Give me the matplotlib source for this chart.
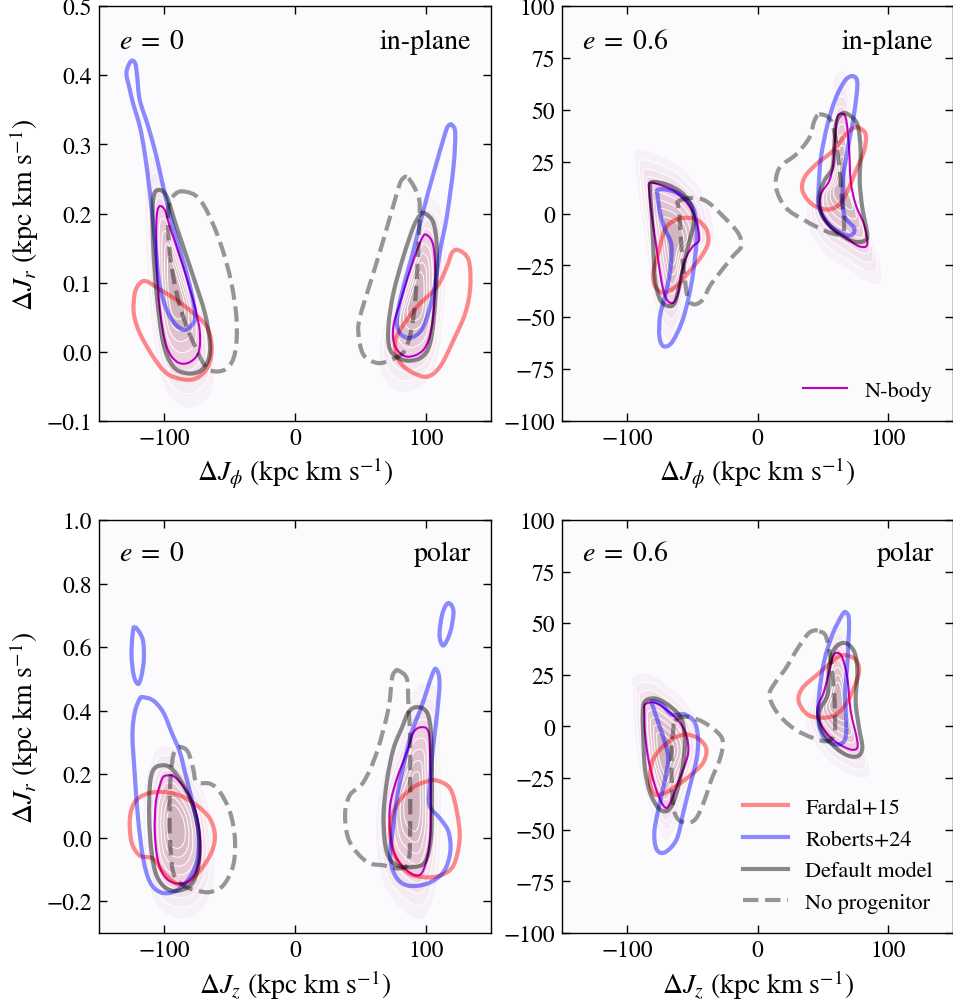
import numpy as np
import matplotlib
matplotlib.use("Agg")
import matplotlib.pyplot as plt
from matplotlib.path import Path
from matplotlib.patches import PathPatch
from matplotlib.lines import Line2D

plt.rcParams['font.family'] = ['STIXGeneral', 'Liberation Serif', 'DejaVu Serif']
plt.rcParams['mathtext.fontset'] = 'stix'
plt.rcParams['axes.linewidth'] = 1.0

# contour outlines, (x, y) in data units; two streams per panel
ip0_nbody = [
    [(-104, 0.210), (-106, 0.191), (-106, 0.133), (-103.4, 0.061), (-98.3, 0.008), (-90.7, -0.014), (-81.8, -0.016),
     (-74.1, -0.002), (-72.8, 0.027), (-76.6, 0.065), (-85.6, 0.123), (-95.8, 0.181), (-99.6, 0.205)],
    [(100.9, 0.169), (106, 0.152), (107.3, 0.099), (104.7, 0.037), (98.3, 0.003), (85.6, -0.007), (76.6, 0.008),
     (75.3, 0.037), (81.8, 0.080), (90.7, 0.133), (97.1, 0.164)],
]
ip0_fardal = [
    [(-118.8, 0.099), (-113.6, 0.102), (-103.4, 0.090), (-90.7, 0.075), (-77.9, 0.056), (-67.7, 0.037), (-63.8, 0.008),
     (-66.4, -0.021), (-75.3, -0.038), (-85.6, -0.040), (-98.3, -0.031), (-108.6, -0.007), (-118.8, 0.027),
     (-123.4, 0.056), (-122.6, 0.085)],
    [(125.1, 0.147), (132.8, 0.133), (134.1, 0.094), (130.3, 0.056), (121.3, 0.017), (111.1, -0.021), (100.9, -0.036),
     (88.1, -0.028), (79.2, -0.012), (76.6, 0.013), (80.5, 0.032), (93.3, 0.065), (108.6, 0.094), (116.2, 0.123),
     (120.1, 0.143)],
]
ip0_roberts = [
    [(-125.7, 0.420), (-129, 0.403), (-126.4, 0.379), (-123.9, 0.359), (-118.8, 0.326), (-115, 0.287), (-111, 0.229),
     (-107, 0.157), (-103.4, 0.094), (-95.8, 0.051), (-85.6, 0.032), (-77.9, 0.041), (-76.6, 0.056), (-79.2, 0.085),
     (-84.3, 0.123), (-93.3, 0.181), (-100.9, 0.239), (-106, 0.282), (-112.4, 0.326), (-118.8, 0.364),
     (-120.8, 0.398), (-122.3, 0.417)],
    [(120.1, 0.328), (122.6, 0.316), (121.3, 0.268), (116.2, 0.196), (111.1, 0.147), (107.3, 0.099), (103.4, 0.065),
     (97.1, 0.032), (88.1, 0.020), (80.5, 0.027), (77.9, 0.046), (81.8, 0.085), (90.7, 0.147), (98.3, 0.205),
     (106, 0.258), (114.9, 0.316), (117.5, 0.327)],
]
ip0_default = [
    [(-104.7, 0.234), (-108.6, 0.220), (-108.6, 0.157), (-106, 0.085), (-100.9, 0.013), (-93.3, -0.021), (-83, -0.031),
     (-72.8, -0.028), (-66.4, -0.012), (-65.1, 0.013), (-69, 0.056), (-77.9, 0.109), (-90.7, 0.181), (-98.3, 0.225)],
    [(99.6, 0.200), (106, 0.186), (108.6, 0.147), (107.3, 0.075), (103.4, 0.013), (95.8, -0.009), (83, -0.012),
     (72.8, 0.003), (71.5, 0.037), (75.3, 0.085), (83, 0.138), (90.7, 0.181), (95.8, 0.198)],
]
ip0_noprog = [
    [(-85.6, 0.232), (-72.8, 0.220), (-60, 0.172), (-49.8, 0.109), (-44.7, 0.046), (-46, -0.002), (-52.3, -0.024),
     (-62.6, -0.028), (-70.3, -0.016), (-83, 0.037), (-90.7, 0.085), (-95.8, 0.143), (-97.1, 0.205), (-93.3, 0.225)],
    [(86.8, 0.251), (94.5, 0.224), (95.3, 0.196), (93.7, 0.123), (90.7, 0.051), (84.3, 0.003), (72.8, -0.012),
     (62.6, -0.016), (52.3, -0.004), (48.5, 0.027), (49.8, 0.051), (57.5, 0.099), (67.7, 0.162), (77.9, 0.229),
     (81.8, 0.249)],
]

ip6_nbody = [
    [(-82.4, 14.8), (-72.3, 13.2), (-62.1, 10.0), (-53.2, 4.3), (-47.3, -2.9), (-44.8, -12.5), (-49.4, -15.7),
     (-54.4, -20.6), (-58.2, -28.6), (-60.8, -38.2), (-64.7, -43.0), (-69.7, -41.4), (-73.5, -33.4), (-77.3, -17.3),
     (-81.1, -1.3), (-83.0, 10.0)],
    [(63.1, 48.0), (67.7, 46.1), (70.2, 31.6), (71.5, 15.6), (75.3, 4.3), (81.7, -5.3), (84.2, -14.9), (77.9, -15.8),
     (67.7, -11.7), (56.3, -6.9), (48.6, 1.1), (48.6, 9.2), (54.9, 15.6), (58.0, 23.6), (59.5, 36.5), (60.8, 45.3)],
]
ip6_fardal = [
    [(-57.0, -2.1), (-46.8, -2.9), (-39.2, -7.7), (-37.9, -14.1), (-43.0, -20.6), (-53.2, -28.6), (-62.1, -35.0),
     (-72.3, -38.2), (-78.6, -35.0), (-79.9, -28.6), (-76.1, -18.9), (-71.0, -7.7), (-64.7, -3.7)],
    [(77.9, 41.3), (83.0, 38.1), (81.7, 30.0), (75.3, 20.4), (68.9, 10.7), (62.6, 4.3), (53.7, 1.9), (42.2, 4.3),
     (34.6, 10.7), (35.9, 17.2), (44.8, 23.6), (57.5, 30.0), (67.7, 38.1), (74.0, 41.3)],
]
ip6_roberts = [
    [(-76.1, 11.6), (-64.7, 10.7), (-54.4, 6.7), (-48.1, 0.3), (-46.8, -12.5), (-49.4, -28.6), (-53.2, -41.4),
     (-58.2, -52.7), (-65.9, -62.3), (-72.3, -63.9), (-75.3, -59.1), (-74.8, -49.5), (-71.0, -39.8), (-67.2, -28.6),
     (-65.9, -17.3), (-67.2, -12.5), (-71.0, -7.7), (-74.8, 0.3), (-76.6, 8.3)],
    [(74.0, 66.1), (76.6, 62.1), (74.0, 47.7), (68.9, 30.0), (65.6, 15.6), (66.4, -0.5), (74.0, -6.9), (72.7, -10.1),
     (66.4, -10.1), (54.9, -5.3), (47.3, 2.7), (46.8, 10.7), (48.6, 26.8), (53.7, 42.9), (60.1, 55.7), (67.7, 64.5)],
]
ip6_default = [
    [(-81.1, 15.1), (-69.7, 14.0), (-58.2, 10.0), (-50.6, 3.5), (-48.9, -4.5), (-51.9, -12.5), (-55.7, -22.2),
     (-59.5, -33.4), (-63.4, -43.0), (-68.5, -44.6), (-74.8, -41.4), (-78.6, -31.8), (-79.9, -17.3), (-81.1, -1.3),
     (-82.4, 11.6)],
    [(68.9, 48.0), (76.6, 42.9), (79.1, 30.0), (78.4, 15.6), (80.4, 2.7), (84.2, -10.1), (81.7, -13.3), (72.7, -13.3),
     (60.1, -8.5), (49.9, -1.3), (47.3, 7.6), (51.1, 15.6), (57.5, 22.0), (58.8, 31.6), (60.1, 42.9), (63.9, 47.7)],
]
ip6_noprog = [
    [(-60.8, 5.9), (-50.6, 7.5), (-39.2, 5.9), (-26.5, -1.3), (-15.0, -9.3), (-12.4, -15.7), (-18.9, -20.6),
     (-29.0, -28.6), (-36.6, -35.0), (-41.8, -41.4), (-48.1, -43.8), (-53.2, -41.4), (-55.7, -31.8), (-58.2, -17.3),
     (-59.5, -4.5), (-60.8, 3.5)],
    [(47.3, 47.7), (54.9, 46.1), (58.8, 39.6), (62.6, 23.6), (64.6, 7.6), (66.4, -6.9), (62.6, -10.1), (52.4, -8.5),
     (37.2, -3.7), (21.9, 2.7), (14.3, 12.4), (16.8, 22.0), (29.5, 28.4), (39.7, 36.5), (43.5, 44.5)],
]

po0_nbody = [
    [(-97.1, 0.196), (-92, 0.191), (-84.3, 0.154), (-76.6, 0.091), (-72.8, 0.007), (-73.3, -0.076), (-79.2, -0.129),
     (-88.1, -0.145), (-98.3, -0.129), (-104.7, -0.076), (-107.3, 0.018), (-106.5, 0.112), (-103.4, 0.165),
     (-100.9, 0.191)],
    [(97.1, 0.348), (102.2, 0.332), (103.4, 0.248), (104.0, 0.123), (103.4, -0.003), (99.6, -0.087), (94.5, -0.119),
     (85.6, -0.103), (76.6, -0.056), (72.8, 0.018), (72.8, 0.102), (77.9, 0.185), (85.6, 0.269), (90.7, 0.332)],
]
po0_fardal = [
    [(-113.6, 0.138), (-100.9, 0.144), (-88.1, 0.133), (-75.3, 0.102), (-65.1, 0.060), (-61.3, 0.007), (-63.8, -0.045),
     (-71.5, -0.097), (-81.8, -0.139), (-90.7, -0.145), (-100.9, -0.108), (-108.6, -0.066), (-118.8, -0.056),
     (-125.1, -0.014), (-126.4, 0.060), (-122.6, 0.112)],
    [(108.6, 0.180), (118.8, 0.154), (123.9, 0.081), (126, -0.003), (121.3, -0.087), (111.1, -0.119), (98.3, -0.124),
     (85.6, -0.108), (75.3, -0.045), (72.8, 0.039), (79.2, 0.112), (90.7, 0.159), (100.9, 0.177)],
]
po0_roberts = [
    [(-116.2, 0.442), (-108.6, 0.432), (-100.9, 0.395), (-94.5, 0.332), (-88.1, 0.269), (-84.3, 0.207),
     (-79.2, 0.123), (-74.1, 0.018), (-75.3, -0.076), (-83.0, -0.139), (-93.3, -0.171), (-103.4, -0.171),
     (-111.1, -0.139), (-116.2, -0.066), (-120.1, 0.060), (-122.6, 0.196), (-124.4, 0.322), (-122.6, 0.395),
     (-118.8, 0.437)],
    [(-122.6, 0.663), (-116.7, 0.626), (-115.7, 0.563), (-117.5, 0.510), (-120.1, 0.484), (-123.4, 0.510),
     (-125.1, 0.573), (-124.4, 0.636)],
    [(108.0, 0.531), (110.6, 0.490), (108.6, 0.385), (105.5, 0.280), (103.4, 0.175), (102.9, 0.102), (111.1, 0.060),
     (117.5, 0.018), (118.8, -0.045), (113.6, -0.108), (100.9, -0.145), (85.6, -0.150), (76.6, -0.119),
     (72.8, -0.056), (75.3, 0.039), (77.9, 0.123), (83.0, 0.227), (89.4, 0.332), (97.1, 0.416), (104.7, 0.510)],
    [(118.8, 0.736), (121.3, 0.710), (118.8, 0.647), (113.6, 0.605), (110.6, 0.636), (112.4, 0.699), (115.7, 0.733)],
]
po0_default = [
    [(-103.4, 0.227), (-95.8, 0.222), (-86.8, 0.175), (-79.2, 0.112), (-74.1, 0.028), (-73.3, -0.066), (-77.9, -0.139),
     (-88.1, -0.166), (-98.3, -0.160), (-106, -0.119), (-109.8, -0.045), (-111.6, 0.060), (-111.1, 0.165),
     (-108.6, 0.212)],
    [(93.3, 0.411), (100.9, 0.395), (104.0, 0.332), (104.7, 0.227), (104.7, 0.123), (104.0, -0.003), (99.6, -0.076),
     (90.7, -0.092), (77.9, -0.087), (70.2, -0.045), (67.7, 0.060), (70.2, 0.175), (75.3, 0.280), (81.8, 0.346),
     (86.8, 0.395)],
]
po0_noprog = [
    [(-86.8, 0.285), (-81.8, 0.269), (-77.9, 0.217), (-75.3, 0.175), (-65.1, 0.170), (-57.5, 0.144), (-49.8, 0.081),
     (-46.0, -0.003), (-47.3, -0.087), (-54.9, -0.150), (-65.1, -0.171), (-75.3, -0.166), (-85.6, -0.150),
     (-93.3, -0.108), (-95.8, 0.007), (-95.8, 0.144), (-93.7, 0.248), (-90.7, 0.280)],
    [(79.2, 0.526), (85.6, 0.500), (86.8, 0.416), (88.1, 0.311), (88.1, 0.175), (88.1, 0.018), (86.8, -0.076),
     (80.5, -0.097), (67.7, -0.087), (54.9, -0.076), (41.8, -0.013), (38.3, 0.070), (41.8, 0.133), (52.4, 0.175),
     (62.6, 0.269), (71.5, 0.406), (74.1, 0.500), (76.6, 0.523)],
]

po6_nbody = [
    [(-86.3, 10.7), (-78.6, 11.5), (-68.5, 7.4), (-59.5, 1.8), (-54.4, -4.7), (-53.2, -12.7), (-57.0, -20.8),
     (-62.1, -28.9), (-65.9, -35.4), (-69.7, -39.4), (-73.5, -36.9), (-78.6, -28.9), (-83.7, -16.0), (-86.3, -3.1),
     (-86.8, 6.6)],
    [(61.3, 35.7), (65.1, 33.3), (68.9, 23.6), (71.5, 7.4), (76.6, -7.1), (75.3, -11.1), (67.7, -10.3), (56.3, -5.5),
     (47.3, 2.6), (46.0, 9.1), (51.1, 17.1), (54.9, 26.8), (58.0, 34.0)],
]
po6_fardal = [
    [(-53.2, -3.9), (-44.3, -6.3), (-39.2, -11.1), (-41.8, -17.6), (-50.6, -23.2), (-60.8, -28.1), (-71.0, -32.1),
     (-78.6, -32.9), (-82.4, -27.3), (-81.1, -17.6), (-74.8, -11.1), (-65.9, -6.3), (-59.5, -4.4)],
    [(67.7, 34.5), (75.3, 32.4), (77.9, 26.8), (74.0, 18.7), (67.7, 10.7), (60.1, 5.8), (49.8, 4.2), (38.4, 5.8),
     (31.5, 12.3), (34.6, 18.7), (46.0, 25.2), (56.3, 30.8), (62.6, 34.0)],
]
po6_roberts = [
    [(-81.1, 12.3), (-73.5, 10.7), (-65.9, 5.8), (-55.7, 5.8), (-48.1, 1.8), (-45.6, -6.3), (-46.8, -16.0),
     (-51.9, -28.9), (-57.0, -41.8), (-62.1, -54.7), (-71.0, -60.9), (-77.3, -59.6), (-79.2, -51.5), (-76.1, -40.2),
     (-71.5, -27.3), (-68.5, -16.0), (-71.0, -7.9), (-76.1, 1.8), (-79.9, 9.1)],
    [(68.2, 55.0), (70.2, 51.0), (69.0, 31.6), (67.2, 15.5), (68.2, -0.6), (66.4, -7.1), (60.1, -8.7), (51.1, -5.5),
     (46.8, 2.6), (47.3, 15.5), (51.1, 31.6), (57.5, 44.6), (65.1, 54.2)],
]
po6_default = [
    [(-86.3, 12.3), (-77.3, 13.4), (-65.9, 9.1), (-58.2, 3.4), (-55.7, -6.3), (-57.0, -17.6), (-60.8, -28.9),
     (-64.7, -36.9), (-69.7, -41.0), (-76.1, -39.4), (-82.4, -32.1), (-86.3, -20.8), (-87.6, -6.3), (-88.0, 5.8)],
    [(66.4, 40.5), (74.0, 36.5), (76.6, 26.8), (75.3, 12.3), (77.9, -0.6), (80.4, -10.3), (76.6, -14.4), (67.7, -13.6),
     (57.5, -8.7), (48.6, -0.6), (47.3, 7.4), (53.7, 15.5), (54.9, 28.4), (58.8, 37.3)],
]
po6_noprog = [
    [(-63.4, 2.6), (-55.7, 4.7), (-43.0, 2.6), (-30.3, -3.1), (-26.5, -7.9), (-29.0, -16.0), (-35.4, -25.7),
     (-40.5, -35.4), (-46.8, -44.2), (-53.2, -46.6), (-60.8, -45.0), (-64.7, -38.6), (-65.9, -24.1), (-65.9, -9.5),
     (-64.7, -2.3)],
    [(47.3, 46.1), (52.4, 43.7), (56.3, 31.6), (58.8, 15.5), (59.5, 2.6), (58.8, -3.9), (53.7, -7.1), (42.2, -5.5),
     (26.9, -0.6), (14.3, 7.4), (9.2, 15.5), (14.3, 21.9), (21.9, 28.4), (29.5, 36.5), (38.4, 44.6), (43.5, 46.5)],
]

labels = ['Fardal+15', 'Roberts+24', 'Default model', 'No progenitor']
ecc_text = [r'$e\;=\;0$', r'$e\;=\;0.6$', r'$e\;=\;0$', r'$e\;=\;0.6$']
orbit_text = ['in-plane', 'in-plane', 'polar', 'polar']

# nested shading for the N-body density, outer -> inner
fill_scales = [1.6, 1.4, 1.24, 1.1, 1.0, 0.85, 0.7, 0.55, 0.4]
fill_colors = ['#f7f2f8', '#f4ebf3', '#f2e2ee', '#f0d9e7', '#eed1e1', '#e8c9d8', '#e0c1ce', '#d9bbc6', '#d3b5bf']


def smooth_path(pts):
    p = np.asarray(pts, float)
    n = len(p)
    verts = [p[0]]
    codes = [Path.MOVETO]
    for i in range(n):
        p0, p1, p2, p3 = p[i - 1], p[i], p[(i + 1) % n], p[(i + 2) % n]
        verts += [p1 + (p2 - p0) / 6, p2 - (p3 - p1) / 6, p2]
        codes += [Path.CURVE4] * 3
    return Path(verts, codes)


def draw_loops(ax, loops, **kw):
    for loop in loops:
        ax.add_patch(PathPatch(smooth_path(loop), fill=False, capstyle='butt', **kw))


def draw_density(ax, loops):
    for s, c in zip(fill_scales, fill_colors):
        for loop in loops:
            p = np.asarray(loop, float)
            ctr = p.mean(axis=0)
            ax.add_patch(PathPatch(smooth_path(ctr + s * (p - ctr)), facecolor=c,
                                   edgecolor='white', lw=0.7))


panels = [
    (ip0_nbody, ip0_fardal, ip0_roberts, ip0_default, ip0_noprog),
    (ip6_nbody, ip6_fardal, ip6_roberts, ip6_default, ip6_noprog),
    (po0_nbody, po0_fardal, po0_roberts, po0_default, po0_noprog),
    (po6_nbody, po6_fardal, po6_roberts, po6_default, po6_noprog),
]

fig = plt.figure(figsize=(9.54, 10.04), dpi=100)
rects = [[0.1038, 0.5797, 0.4109, 0.4133], [0.5891, 0.5797, 0.4099, 0.4133],
         [0.1038, 0.0697, 0.4109, 0.4114], [0.5891, 0.0697, 0.4099, 0.4114]]
axs = [fig.add_axes(r) for r in rects]

lw = 3.0
for k, (ax, (nb, fa, ro, de, npg)) in enumerate(zip(axs, panels)):
    ax.set_facecolor('#fbfafc')
    draw_density(ax, nb)
    draw_loops(ax, nb, edgecolor='m', lw=1.5)
    draw_loops(ax, fa, edgecolor='red', alpha=0.45, lw=lw)
    draw_loops(ax, ro, edgecolor='blue', alpha=0.45, lw=lw)
    draw_loops(ax, de, edgecolor='k', alpha=0.45, lw=lw)
    draw_loops(ax, npg, edgecolor='k', alpha=0.4, lw=lw, linestyle='--')

    ax.set_xlim(-150, 150)
    ax.set_xticks([-100, 0, 100])
    if k == 0:
        ax.set_ylim(-0.1, 0.5)
        ax.set_yticks(np.arange(-0.1, 0.51, 0.1))
    elif k == 2:
        ax.set_ylim(-0.3, 1.0)
        ax.set_yticks(np.arange(-0.2, 1.01, 0.2))
    else:
        ax.set_ylim(-100, 100)
        ax.set_yticks(np.arange(-100, 101, 25))
    ax.tick_params(direction='in', top=True, right=True, length=6, width=1, labelsize=17, pad=5)

    xl = r'$\Delta J_\phi$ (kpc km s$^{-1}$)' if k < 2 else r'$\Delta J_z$ (kpc km s$^{-1}$)'
    ax.set_xlabel(xl, fontsize=20)
    if k % 2 == 0:
        ax.set_ylabel(r'$\Delta J_r$ (kpc km s$^{-1}$)', fontsize=20)

    ty = 0.945 if k < 2 else 0.95
    ax.text(0.05, ty, ecc_text[k], transform=ax.transAxes, fontsize=20, ha='left', va='top')
    ax.text(0.95, ty, orbit_text[k], transform=ax.transAxes, fontsize=20, ha='right', va='top')

axs[1].legend([Line2D([], [], color='m', lw=1.5)], ['N-body'], loc='lower right',
              frameon=False, fontsize=16)
handles = [Line2D([], [], color='red', alpha=0.45, lw=lw),
           Line2D([], [], color='blue', alpha=0.45, lw=lw),
           Line2D([], [], color='k', alpha=0.45, lw=lw),
           Line2D([], [], color='k', alpha=0.4, lw=lw, linestyle='--')]
axs[3].legend(handles, labels, loc='lower right', frameon=False, fontsize=16)

fig.savefig('out.png', dpi=100)
